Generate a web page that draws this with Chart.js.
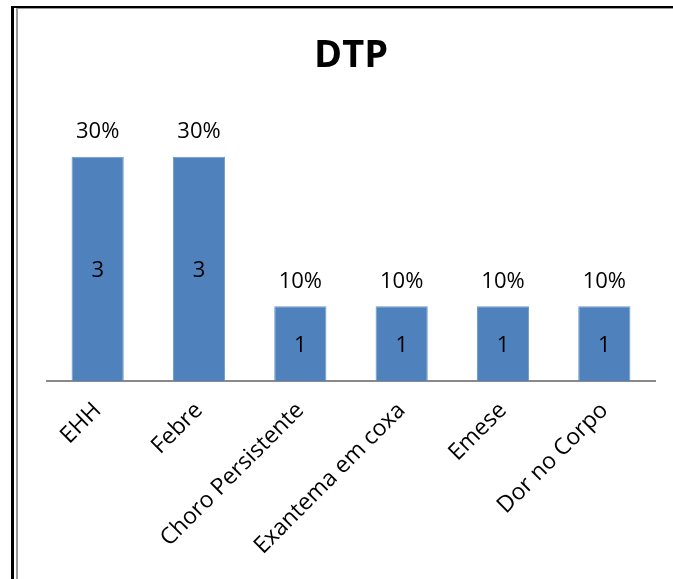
<!DOCTYPE html>
<html>
<head>
<meta charset="utf-8">
<script src="https://cdn.jsdelivr.net/npm/chart.js@4/dist/chart.umd.min.js"></script>
<style>
  body { margin: 0; background: #fff; }
  #wrap { position: relative; width: 673px; height: 579px; overflow: hidden; }
  #dtp { position: absolute; left: 0; top: 0; }
  .line { position: absolute; pointer-events: none; }
</style>
</head>
<body>
<div id="wrap">
  <canvas id="dtp" width="673" height="579"></canvas>
  <div class="line" style="left:11px;top:6px;width:3px;height:600px;background:#000"></div>
  <div class="line" style="left:11px;top:6px;width:662px;height:2px;background:#000"></div>
  <div class="line" style="left:16px;top:8px;width:2px;height:600px;background:#999"></div>
  <div class="line" style="left:16px;top:8px;width:657px;height:1px;background:#999"></div>
</div>
<script>
const categories = [
  "EHH",
  "Febre",
  "Choro Persistente",
  "Exantema em coxa",
  "Emese",
  "Dor no Corpo",
];
const counts = [3, 3, 1, 1, 1, 1];
const percents = [30, 30, 10, 10, 10, 10];

const barColor = "#4f81bd";
const fontName = "'Open Sans', 'Liberation Sans', sans-serif";

// draws the percentage above each bar and the count inside it
const barLabels = {
  id: "barLabels",
  afterDatasetsDraw(chart) {
    const ctx = chart.ctx;
    const meta = chart.getDatasetMeta(0);
    ctx.save();
    ctx.fillStyle = "#000";
    ctx.font = "22px " + fontName;
    ctx.textAlign = "center";
    ctx.textBaseline = "middle";
    meta.data.forEach((bar, i) => {
      ctx.fillText(percents[i] + "%", bar.x, bar.y - 25);
      ctx.fillText(String(counts[i]), bar.x, (bar.y + bar.base) / 2 + 2);
    });
    ctx.restore();
  },
};

new Chart(document.getElementById("dtp"), {
  type: "bar",
  data: {
    labels: categories,
    datasets: [
      {
        data: counts,
        backgroundColor: barColor,
        borderColor: "#6f97c9",
        borderWidth: 1,
        categoryPercentage: 1,
        barPercentage: 0.515,
      },
    ],
  },
  plugins: [barLabels],
  options: {
    responsive: false,
    animation: false,
    layout: { padding: { left: 47, right: 18, top: 0, bottom: 0 } },
    plugins: {
      legend: { display: false },
      tooltip: { enabled: false },
      title: {
        display: true,
        text: "DTP",
        color: "#000",
        font: { family: fontName, size: 38, weight: "bold", lineHeight: 1.2 },
        padding: { top: 33, bottom: 3.5 },
      },
    },
    scales: {
      y: { display: false, min: 0, max: 4 },
      x: {
        grid: { display: false, drawTicks: false },
        border: { display: true, color: "#898989", width: 2 },
        ticks: {
          color: "#000",
          font: { family: fontName, size: 23 },
          minRotation: 45,
          maxRotation: 45,
          padding: 16,
        },
        afterFit(scale) {
          scale.height = 198;
        },
      },
    },
  },
});
</script>
</body>
</html>
